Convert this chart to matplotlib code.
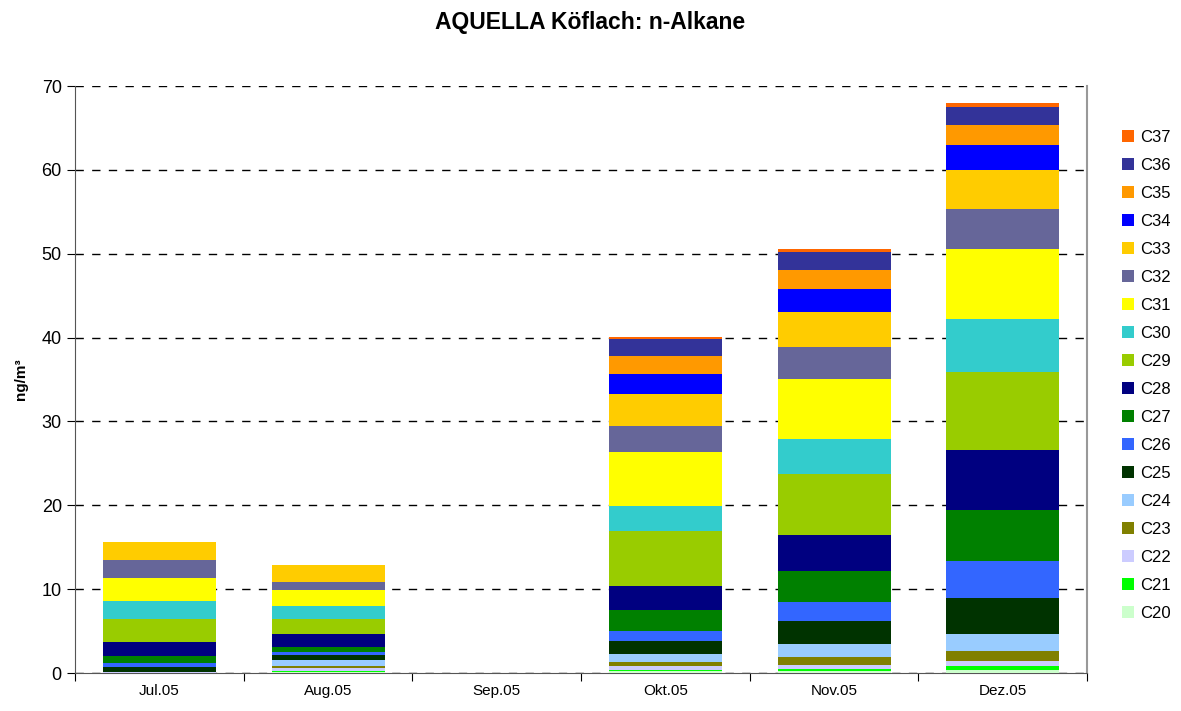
import numpy as np
import matplotlib
matplotlib.use('Agg')
import matplotlib.pyplot as plt
from matplotlib.patches import Patch

plt.rcParams['font.family'] = ['Liberation Sans', 'DejaVu Sans']

months = ['Jul.05', 'Aug.05', 'Sep.05', 'Okt.05', 'Nov.05', 'Dez.05']
species = ['C20', 'C21', 'C22', 'C23', 'C24', 'C25', 'C26', 'C27', 'C28',
           'C29', 'C30', 'C31', 'C32', 'C33', 'C34', 'C35', 'C36', 'C37']
colors = ['#CCFFCC', '#00FF00', '#CCCCFF', '#808000', '#99CCFF', '#003300',
          '#3366FF', '#008000', '#000080', '#99CC00', '#33CCCC', '#FFFF00',
          '#666699', '#FFCC00', '#0000FF', '#FF9900', '#333399', '#FF6600']

# ng/m3 per month, rows = C20 .. C37
values = {
    'C20': [0.02, 0.10, 0, 0.20, 0.24, 0.42],
    'C21': [0.02, 0.15, 0, 0.16, 0.24, 0.40],
    'C22': [0.03, 0.36, 0, 0.47, 0.47, 0.66],
    'C23': [0.03, 0.23, 0, 0.48, 0.96, 1.20],
    'C24': [0.05, 0.72, 0, 0.96, 1.55, 2.00],
    'C25': [0.57, 0.60, 0, 1.55, 2.74, 4.21],
    'C26': [0.47, 0.35, 0, 1.19, 2.27, 4.48],
    'C27': [0.84, 0.60, 0, 2.50, 3.69, 6.08],
    'C28': [1.67, 1.55, 0, 2.86, 4.30, 7.10],
    'C29': [2.74, 1.79, 0, 6.53, 7.27, 9.40],
    'C30': [2.15, 1.55, 0, 3.01, 4.17, 6.30],
    'C31': [2.74, 1.91, 0, 6.44, 7.16, 8.34],
    'C32': [2.14, 0.95, 0, 3.10, 3.81, 4.75],
    'C33': [2.15, 2.03, 0, 3.82, 4.18, 4.66],
    'C34': [0, 0, 0, 2.38, 2.74, 2.97],
    'C35': [0, 0, 0, 2.15, 2.27, 2.35],
    'C36': [0, 0, 0, 2.03, 2.14, 2.18],
    'C37': [0, 0, 0, 0.27, 0.36, 0.49],
}

fig = plt.figure(figsize=(11.81, 7.11), dpi=100)
ax = fig.add_axes([0.0635, 0.0534, 0.857, 0.8256])

x = np.arange(len(months))
bottom = np.zeros(len(months))
for sp, col in zip(species, colors):
    v = np.array(values[sp])
    ax.bar(x, v, bottom=bottom, width=0.67, color=col, linewidth=0, zorder=3)
    bottom += v

ax.set_xlim(-0.5, len(months) - 0.5)
ax.set_ylim(0, 70)
ax.set_yticks(range(0, 71, 10))
ax.tick_params(axis='y', labelsize=13, direction='out', length=6)
ax.set_xticks(np.arange(-0.5, len(months)), labels=[''] * (len(months) + 1))
ax.set_xticks(x, labels=months, minor=True)
ax.tick_params(axis='x', which='major', direction='out', length=6)
ax.tick_params(axis='x', which='minor', length=0, labelsize=11, pad=8)

ax.yaxis.grid(True, linestyle=(0, (6, 6)), color='black', linewidth=1, zorder=0)
ax.spines['top'].set_visible(False)
ax.spines['right'].set_color('#999999')
ax.spines['right'].set_linewidth(1.5)
ax.spines['left'].set_color('#555555')
ax.spines['bottom'].set_color('#555555')

ax.set_ylabel('ng/m³', fontsize=11, fontweight='bold', labelpad=10)
fig.suptitle('AQUELLA Köflach: n-Alkane', fontsize=16.5, fontweight='bold', y=0.985)

handles = [Patch(facecolor=c, edgecolor='none', label=s) for s, c in zip(species, colors)]
leg = fig.legend(handles=handles[::-1], loc='center left', bbox_to_anchor=(0.937, 0.472),
                 frameon=False, fontsize=12, handlelength=0.75, handleheight=0.75,
                 handletextpad=0.35, labelspacing=0.78)

fig.savefig('out.png', dpi=100)
